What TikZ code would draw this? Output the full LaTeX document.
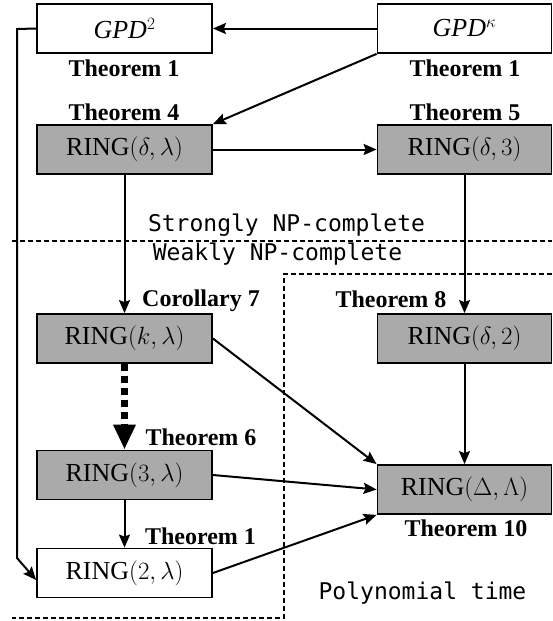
\documentclass[tikz,border=0pt]{standalone}
\usepackage{fontspec}
\setmainfont{Liberation Serif}[BoldFont={Liberation Serif Bold}, ItalicFont={Liberation Serif Italic}, BoldItalicFont={Liberation Serif Bold Italic}]
\newfontfamily\monofont{DejaVu Sans Mono}
\usetikzlibrary{arrows.meta}
\definecolor{boxgray}{RGB}{170,170,170}
\begin{document}
\begin{tikzpicture}[x=1pt,y=-1pt,
  box/.style={draw, line width=1.8pt, minimum width=175pt, minimum height=49pt, inner sep=0pt, font=\fontsize{26}{30}\selectfont},
  rbox/.style={box, minimum width=174pt},
  graybox/.style={fill=boxgray},
  lbl/.style={font=\fontsize{24}{28}\selectfont\bfseries, inner sep=0pt, text depth=0pt},
  mono/.style={font=\fontsize{23}{27}\selectfont\monofont, inner sep=0pt},
  arr/.style={line width=2pt, -{Stealth[length=13pt,width=11pt,inset=2pt]}},
  bigarr/.style={line width=7pt, dash pattern=on 7pt off 5pt, -{Triangle[length=25pt,width=21pt]}},
  dashedline/.style={line width=2.4pt, dash pattern=on 5pt off 3pt}
]
\useasboundingbox (0,0) rectangle (552,621);

% boxes
\node[box] (gpd2) at (124.5,28.5) {\textit{GPD}$^2$};
\node[rbox] (gpdk) at (464.5,28.5) {\textit{GPD}$^\kappa$};
\node[box, graybox] (ringdl) at (124.5,149.5) {$\mathrm{RING}(\delta,\lambda)$};
\node[rbox, graybox] (ringd3) at (464.5,149.5) {$\mathrm{RING}(\delta,3)$};
\node[box, graybox] (ringkl) at (124.5,338.5) {$\mathrm{RING}(k,\lambda)$};
\node[rbox, graybox] (ringd2) at (464.5,338.5) {$\mathrm{RING}(\delta,2)$};
\node[box, graybox] (ring3l) at (124.5,475) {$\mathrm{RING}(3,\lambda)$};
\node[box] (ring2l) at (124.5,573) {$\mathrm{RING}(2,\lambda)$};
\node[rbox, graybox] (ringDL) at (464.5,489.5) {$\mathrm{RING}(\Delta,\Lambda)$};

% labels
\node[lbl] (t1a) at (124,68) {Theorem 1};
\node[lbl] (t1b) at (465,68) {Theorem 1};
\node[lbl] (t4) at (124,112) {Theorem 4};
\node[lbl] (t5) at (465,112) {Theorem 5};
\node[lbl] (c7) at (201,298) {Corollary 7};
\node[lbl] (t8) at (391,299) {Theorem 8};
\node[lbl] (t6) at (201,437) {Theorem 6};
\node[lbl] (t1c) at (200.5,536) {Theorem 1};
\node[lbl] (t10) at (466,528) {Theorem 10};

\node[mono] (strong) at (286.5,225) {Strongly NP-complete};
\node[mono] (weak) at (277.5,254) {Weakly NP-complete};
\node[mono] (poly) at (422.5,593) {Polynomial time};

% region borders
\coordinate (h1) at (12,241);
\coordinate (h2) at (552,241);
\draw[dashedline] (h1) -- (h2);
\coordinate (p1) at (552,274);
\coordinate (p2) at (284,274);
\coordinate (p3) at (284,618);
\coordinate (p4) at (12,618);
\draw[dashedline] (p1) -- (p2) -- (p3) -- (p4);

% connectors
\draw[arr] (gpdk.west) -- (gpd2.east);
\draw[arr] (gpdk.south west) -- (ringdl.north east);
\draw[arr] (ringdl.east) -- (ringd3.west);
\draw[arr] (ringdl.south) -- (ringkl.north);
\draw[arr] (ringd3.south) -- (ringd2.north);
\draw[bigarr] (ringkl.south) -- (ring3l.north);
\draw[arr] (ring3l.south) -- (ring2l.north);
\draw[arr] (ringkl.east) -- (ringDL.north west);
\draw[arr] (ring3l.east) -- (ringDL.west);
\draw[arr] (ring2l.east) -- (ringDL.south west);
\draw[arr] (ringd2.south) -- (ringDL.north);
\coordinate (l1) at (17,29);
\coordinate (l2) at (17,558);
\draw[arr] (gpd2.west) -- (l1) -- (l2) -- ([yshift=-7pt]ring2l.west);
\end{tikzpicture}
\end{document}
